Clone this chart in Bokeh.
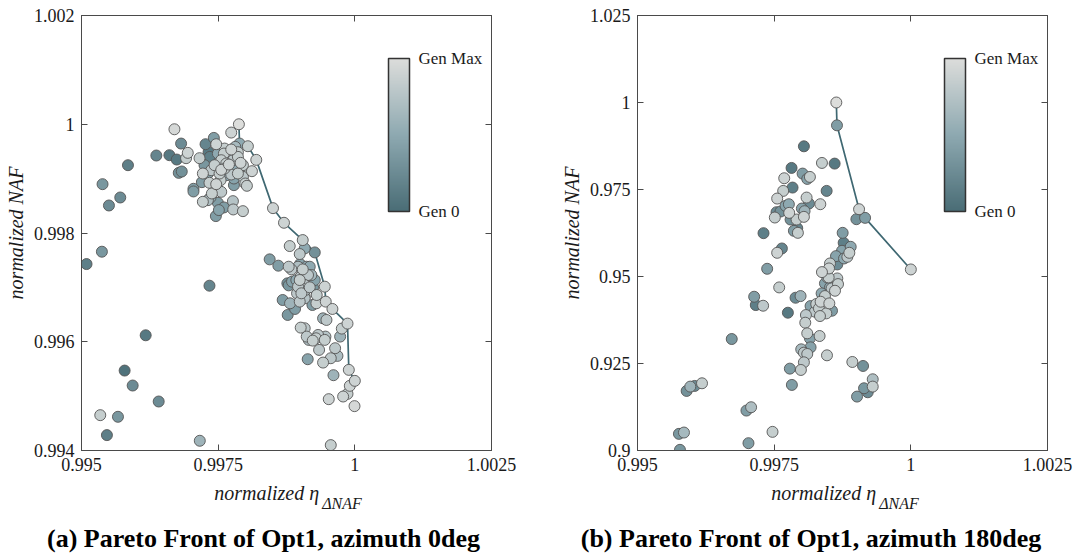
import numpy as np
from bokeh.plotting import figure
from bokeh.layouts import row, column
from bokeh.models import (ColumnDataSource, LinearColorMapper, ColorBar, FixedTicker,
                          CustomJSTickFormatter, LinearAxis, Range1d, Div)
from bokeh.transform import linear_cmap
from bokeh.embed import file_html
from bokeh.resources import INLINE

FONT = "Liberation Serif"

# ---------------- data: azimuth 0deg ----------------
eta_az0 = [
    0.995092, 0.995373, 0.995385, 0.995502, 0.995709, 0.99585, 0.996369, 0.996608, 0.996742, 0.9967,
    0.996822, 0.996779, 0.996834, 0.996913, 0.996944, 0.997048, 0.997048, 0.997341, 0.996174, 0.995789,
    0.995936, 0.996412, 0.995343, 0.995667, 0.995465, 0.997164, 0.99956,
    0.999762, 0.999731, 0.999639, 0.999682, 0.99956, 0.999419, 0.999138, 0.999609, 0.999523, 0.999786,
    0.999866, 0.999908, 0.999994, 0.999346, 0.999291, 0.999083, 0.99901, 0.99912, 0.999157, 0.99923,
    0.999328, 0.99945, 0.999462, 0.999419, 0.999481,
    0.998442, 0.998601, 0.998809, 0.998992, 0.999083, 0.998766, 0.99879, 0.99868, 0.998772, 0.998815,
    0.998906, 0.998943, 0.998992, 0.999083, 0.999224, 0.999297, 0.999303, 0.998961, 0.998998, 0.999047,
    0.999114, 0.999175, 0.99901, 0.998992, 0.999083, 0.999144, 0.999205, 0.999267, 0.999236, 0.999083,
    0.999034, 0.998961, 0.99893, 0.998851, 0.999095, 0.999022, 0.999083, 0.999175, 0.998839, 0.99879,
    0.997421, 0.997269, 0.997464, 0.997324, 0.997348, 0.997159, 0.99725, 0.99722, 0.997202, 0.997341,
    0.997464, 0.997312, 0.997373, 0.997556, 0.997544, 0.997495, 0.997556, 0.997385, 0.99722, 0.997312,
    0.99736, 0.997495, 0.997513, 0.997458, 0.997605, 0.99777, 0.997776, 0.997953, 0.997617, 0.997678,
    0.997605, 0.997739, 0.997861, 0.997813, 0.997556, 0.997648, 0.997697, 0.99777, 0.99791, 0.997861,
    0.997953, 0.997831, 0.997739, 0.997861, 0.997984, 0.998118, 0.997953, 0.997788, 0.997788, 0.997996,
    0.998026, 0.997739, 0.997495, 0.997434, 0.997525, 0.997648, 0.997617,
]
naf_az0 = [
    0.997429, 0.997656, 0.998898, 0.998506, 0.998653, 0.999247, 0.999425, 0.999431, 0.999351, 0.999908,
    0.999645, 0.999106, 0.999131, 0.999376, 0.999474, 0.998813, 0.998764, 0.997031, 0.996119, 0.99547,
    0.995195, 0.994901, 0.99465, 0.99462, 0.994283, 0.994179, 0.994099,
    0.996242, 0.996095, 0.995881, 0.99574, 0.995697, 0.995617, 0.995679, 0.995385, 0.994944, 0.994993,
    0.995042, 0.995189, 0.994816, 0.99585, 0.996064, 0.996248, 0.99626, 0.996095, 0.996034, 0.996021,
    0.996125, 0.996034, 0.996095, 0.996431, 0.996401,
    0.997515, 0.997399, 0.99776, 0.997613, 0.997717, 0.997074, 0.997037, 0.996768, 0.996493, 0.996707,
    0.996603, 0.996891, 0.996738, 0.996799, 0.996676, 0.996707, 0.99686, 0.99738, 0.997429, 0.997331,
    0.99738, 0.99738, 0.997197, 0.997135, 0.997197, 0.997227, 0.997227, 0.997135, 0.997001, 0.997044,
    0.996982, 0.997013, 0.997135, 0.997105, 0.996952, 0.996891, 0.996829, 0.997001, 0.997331, 0.99738,
    0.999749, 0.999633, 0.999633, 0.999486, 0.9994, 0.999376, 0.999247, 0.999094, 0.998935, 0.998923,
    0.998898, 0.999094, 0.999155, 0.999161, 0.998972, 0.9988, 0.998757, 0.998727, 0.998574, 0.998604,
    0.998653, 0.998555, 0.998421, 0.998311, 0.99847, 0.998586, 0.998433, 0.998402, 0.999553, 0.999486,
    0.999461, 0.999535, 0.999486, 0.999584, 0.999339, 0.999278, 0.999259, 0.999339, 0.99929, 0.9994,
    0.999247, 0.999217, 0.999076, 0.999094, 0.999125, 0.999137, 0.999033, 0.999002, 0.99888, 0.99891,
    0.998868, 0.999847, 0.999461, 0.999247, 0.999094, 0.999063, 0.999186,
]
gen_az0 = [
    0.15, 0.35, 0.35, 0.25, 0.25, 0.15, 0.2, 0.1, 0.1, 0.95,
    0.25, 0.3, 0.3, 0.85, 0.9, 0.4, 0.4, 0.2, 0.1, 0.05,
    0.25, 0.25, 0.85, 0.35, 0.15, 0.6, 0.85,
    0.85, 0.6, 0.8, 0.7, 0.8, 0.85, 0.45, 0.6, 0.9, 0.9,
    0.85, 0.9, 0.95, 0.8, 0.85, 0.8, 0.85, 0.8, 0.7, 0.85,
    0.8, 0.85, 0.75, 0.6, 0.8,
    0.4, 0.4, 0.85, 0.8, 0.5, 0.3, 0.35, 0.4, 0.35, 0.6,
    0.4, 0.8, 0.8, 0.75, 0.4, 0.85, 0.85, 0.7, 0.45, 0.85,
    0.5, 0.5, 0.8, 0.85, 0.8, 0.8, 0.65, 0.45, 0.35, 0.8,
    0.8, 0.8, 0.5, 0.45, 0.75, 0.8, 0.7, 0.8, 0.8, 0.8,
    0.4, 0.2, 0.9, 0.1, 0.15, 0.85, 0.35, 0.9, 0.4, 0.85,
    0.9, 0.45, 0.8, 0.9, 0.85, 0.8, 0.8, 0.85, 0.85, 0.7,
    0.5, 0.4, 0.45, 0.4, 0.4, 0.75, 0.8, 0.85, 0.85, 0.8,
    0.85, 0.9, 0.85, 0.65, 0.85, 0.85, 0.9, 0.8, 0.9, 0.85,
    0.85, 0.5, 0.8, 0.85, 0.8, 0.9, 0.8, 0.45, 0.4, 0.85,
    0.85, 0.9, 0.5, 0.85, 0.85, 0.5, 0.85,
]
front_eta_az0 = [0.997879, 0.997891, 0.998044, 0.998197, 0.998503, 0.998704, 0.999047,
                 0.999267, 0.99945, 0.999468, 0.99959, 0.999866, 0.99989, 1.0]
front_naf_az0 = [1.0, 0.999645, 0.999596, 0.999345, 0.998457, 0.998188, 0.99787,
                 0.997643, 0.997013, 0.996738, 0.996603, 0.996334, 0.995483, 0.995281]
front_gen_az0 = [1.0, 0.5, 0.85, 0.9, 0.9, 0.9, 0.85, 0.3, 0.9, 0.9, 0.9, 0.9, 0.9, 0.9]

# ---------------- data: azimuth 180deg ----------------
eta_az180 = [
    0.999004, 0.998044, 0.998374, 0.998606, 0.997818, 0.99802, 0.998154, 0.998105, 0.997684, 0.997836,
    0.997665, 0.99846, 0.997555, 0.998093, 0.998136, 0.998344, 0.997708, 0.997769, 0.998007, 0.998056,
    0.997543, 0.997616, 0.997775, 0.997512, 0.9978, 0.99791, 0.998044, 0.997861, 0.997922, 0.997934,
    0.997305, 0.998753, 0.998771, 0.997641, 0.997555, 0.9989, 0.998875, 0.998741, 0.998631, 0.998778,
    0.998839, 0.998655, 0.998521, 0.998503, 0.998374, 0.998472, 0.998497, 0.998655, 0.998668, 0.998429,
    0.998521, 0.998613, 0.998551, 0.998368, 0.998429, 0.99835, 0.99827, 0.998509, 0.998166, 0.998319,
    0.998246, 0.998454, 0.998558, 0.998338, 0.997983, 0.997891, 0.997592, 0.997372, 0.997134, 0.997164,
    0.997298, 0.997751, 0.998081, 0.998069, 0.996724, 0.998105, 0.998154, 0.998331, 0.998166, 0.997995,
    0.998044, 0.998105, 0.998466, 0.998044, 0.997989, 0.997787, 0.997824, 0.99893, 0.999126, 0.999303,
    0.999303, 0.999144, 0.999212, 0.999016, 0.995899, 0.996046, 0.995966, 0.99618, 0.996993, 0.997078,
    0.99747, 0.995758, 0.99585, 0.99703, 0.995777,
]
naf_az180 = [
    0.966469, 0.987414, 0.982632, 0.982441, 0.981197, 0.979571, 0.978615, 0.978041, 0.978232, 0.975554,
    0.974598, 0.974598, 0.972398, 0.972685, 0.970964, 0.970772, 0.970294, 0.970772, 0.969529, 0.968764,
    0.968477, 0.968668, 0.968286, 0.966947, 0.966373, 0.966373, 0.967138, 0.963121, 0.963886, 0.962547,
    0.962452, 0.962547, 0.959678, 0.958052, 0.956809, 0.958531, 0.956809, 0.957383, 0.955853, 0.955183,
    0.955661, 0.953462, 0.953748, 0.952314, 0.951262, 0.949732, 0.949732, 0.949445, 0.947819, 0.94801,
    0.946863, 0.945906, 0.946576, 0.945141, 0.944376, 0.94275, 0.942081, 0.942272, 0.941507, 0.940837,
    0.939881, 0.939403, 0.940168, 0.938638, 0.944376, 0.943898, 0.946863, 0.952218, 0.944185, 0.941794,
    0.941602, 0.939594, 0.938925, 0.936724, 0.932038, 0.933664, 0.93223, 0.9329, 0.929647, 0.929073,
    0.928117, 0.927734, 0.927352, 0.925343, 0.923144, 0.923526, 0.91884, 0.92544, 0.924291, 0.920466,
    0.918362, 0.917884, 0.916736, 0.915493, 0.917118, 0.918553, 0.918362, 0.919318, 0.911476, 0.912432,
    0.905355, 0.904781, 0.905163, 0.902103, 0.90019,
]
gen_az180 = [
    0.3, 0.1, 0.85, 0.1, 0.1, 0.4, 0.85, 0.45, 0.9, 0.15,
    0.85, 0.2, 0.9, 0.85, 0.25, 0.9, 0.45, 0.5, 0.45, 0.6,
    0.25, 0.3, 0.9, 0.85, 0.3, 0.85, 0.9, 0.4, 0.2, 0.85,
    0.15, 0.4, 0.15, 0.2, 0.9, 0.5, 0.85, 0.45, 0.45, 0.5,
    0.8, 0.25, 0.85, 0.9, 0.9, 0.65, 0.85, 0.8, 0.85, 0.45,
    0.5, 0.9, 0.8, 0.5, 0.85, 0.9, 0.85, 0.9, 0.45, 0.85,
    0.8, 0.85, 0.4, 0.85, 0.6, 0.25, 0.85, 0.4, 0.4, 0.15,
    0.8, 0.1, 0.8, 0.85, 0.35, 0.85, 0.45, 0.85, 0.45, 0.65,
    0.8, 0.8, 0.85, 0.8, 0.85, 0.4, 0.4, 0.85, 0.3, 0.7,
    0.85, 0.35, 0.25, 0.4, 0.3, 0.25, 0.6, 0.85, 0.4, 0.7,
    0.85, 0.35, 0.65, 0.4, 0.35,
]
front_eta_az180 = [0.998637, 0.998649, 0.999053, 0.999163, 1.0]
front_naf_az180 = [1.0, 0.993439, 0.969338, 0.966851, 0.952027]
front_gen_az180 = [1.0, 0.4, 0.9, 0.4, 0.9]

# ---------------- axes / texts ----------------
x_ticks = [0.995, 0.9975, 1.0, 1.0025]
y_ticks_az0 = [0.994, 0.996, 0.998, 1.0, 1.002]
y_ticks_az180 = [0.9, 0.925, 0.95, 0.975, 1.0, 1.025]
titles = ["(a) Pareto Front of Opt1, azimuth 0deg", "(b) Pareto Front of Opt1, azimuth 180deg"]

# colormap Gen 0 (dark teal) -> Gen Max (light grey)
cmap_stops = [0.0, 0.5, 1.0]
cmap_rgb = [(0x4a, 0x6d, 0x76), (0x8e, 0xa9, 0xb1), (0xdc, 0xdd, 0xdb)]


def make_palette(n=256):
    t = np.linspace(0, 1, n)
    arr = np.array(cmap_rgb, float)
    ch = [np.interp(t, cmap_stops, arr[:, k]) for k in range(3)]
    return ["#%02x%02x%02x" % (int(round(ch[0][i])), int(round(ch[1][i])), int(round(ch[2][i])))
            for i in range(n)]


PALETTE = make_palette()
FMT = "return String(parseFloat(tick.toFixed(6)));"


def style_axis(ax, ticks, labels=True):
    ax.ticker = FixedTicker(ticks=ticks)
    ax.major_tick_in = 6
    ax.major_tick_out = 0
    ax.minor_tick_line_color = None
    ax.axis_line_color = "#4a4a4a"
    ax.major_tick_line_color = "#4a4a4a"
    if labels:
        ax.formatter = CustomJSTickFormatter(code=FMT)
        ax.major_label_text_font = FONT
        ax.major_label_text_font_size = "18px"
        ax.major_label_text_color = "#1a1a1a"
        ax.major_label_standoff = 7
    else:
        ax.formatter = CustomJSTickFormatter(code="return '';")
        ax.major_label_standoff = 0


def make_panel(xs, ys, gs, fx, fy, fg, yr, yticks, bl, br):
    p = figure(frame_width=410, frame_height=435,
               x_range=Range1d(0.995, 1.0025), y_range=Range1d(*yr),
               output_backend="svg", toolbar_location=None, title=None,
               min_border_left=bl, min_border_right=br, min_border_top=15, min_border_bottom=30)
    p.grid.visible = False
    p.outline_line_color = "#4a4a4a"
    p.outline_line_width = 1
    p.background_fill_color = "white"
    p.border_fill_color = "white"

    style_axis(p.xaxis[0], x_ticks)
    style_axis(p.yaxis[0], yticks)
    p.yaxis[0].axis_label = "normalized NAF"
    p.yaxis[0].axis_label_text_font = FONT
    p.yaxis[0].axis_label_text_font_style = "italic"
    p.yaxis[0].axis_label_text_font_size = "20px"
    p.yaxis[0].axis_label_text_color = "#1a1a1a"
    p.yaxis[0].axis_label_standoff = 4

    top = LinearAxis()
    style_axis(top, x_ticks, labels=False)
    p.add_layout(top, "above")
    right = LinearAxis()
    style_axis(right, yticks, labels=False)
    p.add_layout(right, "right")

    # Pareto front line
    p.line(fx, fy, line_color="#3f6872", line_width=1.7)

    ax_ = np.array(list(xs) + list(fx))
    ay_ = np.array(list(ys) + list(fy))
    ag_ = np.array(list(gs) + list(fg))
    order = np.argsort(ag_, kind="stable")
    src = ColumnDataSource(dict(x=ax_[order], y=ay_[order], gen=ag_[order]))
    p.scatter("x", "y", source=src, size=11,
              fill_color=linear_cmap("gen", PALETTE, 0, 1),
              line_color="#555555", line_width=0.9)

    mapper = LinearColorMapper(palette=PALETTE, low=0, high=1)
    cb = ColorBar(color_mapper=mapper, ticker=FixedTicker(ticks=[0, 1]),
                  formatter=CustomJSTickFormatter(code="return tick < 0.5 ? 'Gen 0' : 'Gen Max';"),
                  width=21, height=153, location=(307, 239), padding=0, margin=0,
                  label_standoff=9, major_label_text_font=FONT,
                  major_label_text_font_size="17px", major_label_text_color="#1a1a1a",
                  bar_line_color="#333333", bar_line_width=1.5,
                  major_tick_line_color=None, minor_tick_line_color=None,
                  background_fill_alpha=0, border_line_color=None)
    p.add_layout(cb)
    return p


def xlabel_div(width, pad_left):
    html = ("<div style=\"width:%dpx;padding:3px 0 0 %dpx;box-sizing:border-box;text-align:center;"
            "font-family:'Liberation Serif';font-style:italic;font-size:20px;line-height:20px;"
            "color:#1a1a1a;white-space:nowrap\">normalized &eta;"
            "<span style=\"position:relative;top:9px;font-size:16px;margin-left:3px\">&Delta;NAF</span>"
            "</div>") % (width, pad_left)
    return Div(text=html, width=width, height=40, margin=(0, 0, 0, 0))


def title_div(width, pad_left, pad_right, text):
    html = ("<div style=\"width:%dpx;padding:6px %dpx 0 %dpx;box-sizing:border-box;text-align:center;"
            "font-family:'Liberation Serif';font-weight:bold;font-size:26px;line-height:26px;"
            "color:#000;white-space:nowrap\">%s</div>") % (width, pad_right, pad_left, text)
    return Div(text=html, width=width, height=35, margin=(0, 0, 0, 0))


p1 = make_panel(eta_az0, naf_az0, gen_az0, front_eta_az0, front_naf_az0, front_gen_az0,
                (0.994, 1.002), y_ticks_az0, 81, 46)
p2 = make_panel(eta_az180, naf_az180, gen_az180, front_eta_az180, front_naf_az180, front_gen_az180,
                (0.9, 1.025), y_ticks_az180, 100, 28)

left = column(p1, xlabel_div(537, 39), title_div(537, 0, 10, titles[0]), spacing=0)
right = column(p2, xlabel_div(538, 78), title_div(538, 10, 0, titles[1]), spacing=0)
layout = row(left, right, spacing=0)
open("out.html", "w").write(file_html(layout, INLINE))
